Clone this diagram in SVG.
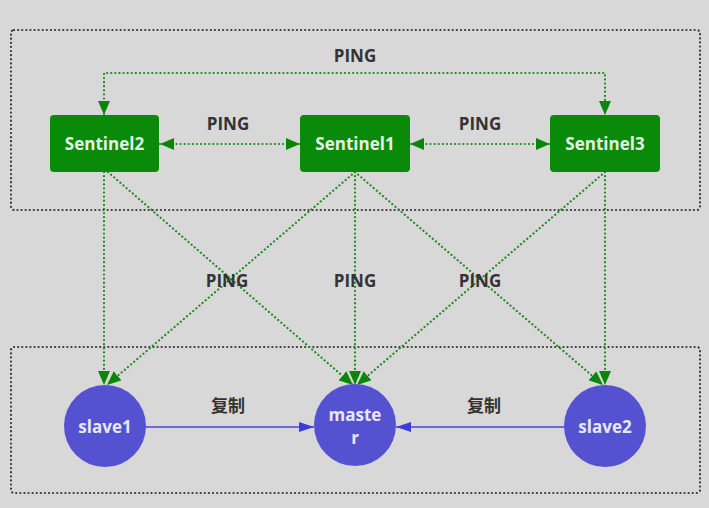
<svg xmlns="http://www.w3.org/2000/svg" width="709" height="508" viewBox="0 0 709 508">
<style>
.bg{fill:#d8d8d8}
.group{fill:none;stroke:#3a3a3a;stroke-width:2.2;stroke-dasharray:0.1 4;stroke-linecap:round}
.ping{fill:none;stroke:#1f8a1f;stroke-width:2.2;stroke-dasharray:0.1 4;stroke-linecap:round}
.repl{fill:none;stroke:#4848d0;stroke-width:1.3}
.sent rect{fill:#098a09}
.sent text{fill:#e4f2e4;font-family:"Open Sans","Liberation Sans",sans-serif;font-weight:bold;font-size:17px;text-anchor:middle}
.redis circle{fill:#5552d2}
.redis text{fill:#e8e8f4;font-family:"Open Sans","Liberation Sans",sans-serif;font-weight:bold;font-size:17px;text-anchor:middle}
.lbl{fill:#333;font-family:"Open Sans","Liberation Sans",sans-serif;font-weight:bold;font-size:17px;text-anchor:middle}
.cn{fill:#333;font-family:"Liberation Sans","Noto Sans CJK SC",sans-serif;font-weight:bold;font-size:17px;text-anchor:middle}
</style>
<defs>
<marker id="ga" viewBox="0 0 14 12" refX="14" refY="6" markerWidth="14" markerHeight="12" markerUnits="userSpaceOnUse" orient="auto-start-reverse">
<path d="M0,0 L14,6 L0,12 Z" fill="#0a860a"/>
</marker>
<marker id="ba" viewBox="0 0 15 10" refX="15" refY="5" markerWidth="15" markerHeight="10" markerUnits="userSpaceOnUse" orient="auto">
<path d="M0,0 L15,5 L0,10 Z" fill="#3c3cd6"/>
</marker>
</defs>
<rect class="bg" x="0" y="0" width="709" height="508"/>
<rect class="group" x="11" y="30" width="689" height="180" rx="3"/>
<rect class="group" x="11" y="347" width="689" height="146" rx="3"/>
<g id="connectors">
<path class="ping" d="M104,115 V73 H605 V115" marker-start="url(#ga)" marker-end="url(#ga)"/>
<line class="ping" x1="160" y1="144" x2="300" y2="144" marker-start="url(#ga)" marker-end="url(#ga)"/>
<line class="ping" x1="410" y1="144" x2="550" y2="144" marker-start="url(#ga)" marker-end="url(#ga)"/>
<line class="ping" x1="104" y1="172" x2="104" y2="385" marker-end="url(#ga)"/>
<line class="ping" x1="108" y1="172" x2="353" y2="385" marker-end="url(#ga)"/>
<line class="ping" x1="355" y1="172" x2="107" y2="385" marker-end="url(#ga)"/>
<line class="ping" x1="355" y1="172" x2="355" y2="385" marker-end="url(#ga)"/>
<line class="ping" x1="355" y1="172" x2="603" y2="385" marker-end="url(#ga)"/>
<line class="ping" x1="605" y1="172" x2="357" y2="385" marker-end="url(#ga)"/>
<line class="ping" x1="605" y1="172" x2="605" y2="385" marker-end="url(#ga)"/>
<line class="repl" x1="145" y1="427" x2="314" y2="427" marker-end="url(#ba)"/>
<line class="repl" x1="565" y1="427" x2="396" y2="427" marker-end="url(#ba)"/>
</g>
<text class="lbl" x="355" y="62">PING</text>
<text class="lbl" x="228" y="130">PING</text>
<text class="lbl" x="480" y="130">PING</text>
<text class="lbl" x="227" y="287">PING</text>
<text class="lbl" x="355" y="287">PING</text>
<text class="lbl" x="480" y="287">PING</text>
<text class="cn" x="228" y="412">复制</text>
<text class="cn" x="484" y="412">复制</text>
<g id="sentinel2" class="sent"><rect x="50" y="115" width="109" height="57" rx="4"/><text x="104.5" y="150">Sentinel2</text></g>
<g id="sentinel1" class="sent"><rect x="300" y="115" width="110" height="57" rx="4"/><text x="355" y="150">Sentinel1</text></g>
<g id="sentinel3" class="sent"><rect x="550" y="115" width="110" height="57" rx="4"/><text x="605" y="150">Sentinel3</text></g>
<g id="slave1" class="redis"><circle cx="105" cy="426" r="41"/><text x="105" y="433">slave1</text></g>
<g id="master" class="redis"><circle cx="355" cy="425" r="41"/><text x="355" y="421">maste</text><text x="355" y="444">r</text></g>
<g id="slave2" class="redis"><circle cx="605" cy="426" r="41"/><text x="605" y="433">slave2</text></g>
</svg>
